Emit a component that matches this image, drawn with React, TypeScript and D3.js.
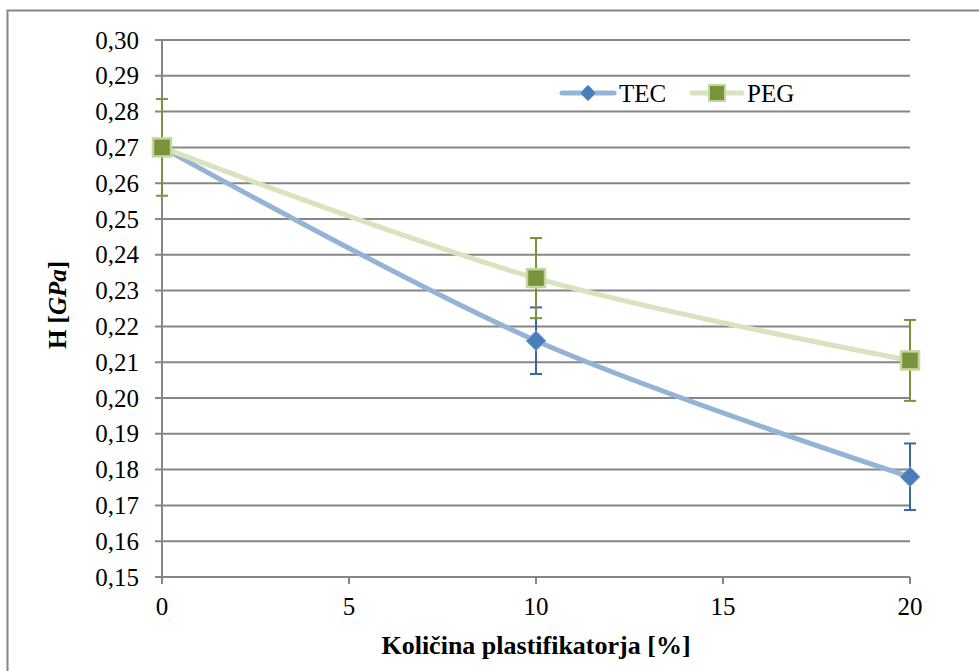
import React from "react";
import * as d3 from "d3";

const xValues = [0, 10, 20];
const tecValues = [0.270, 0.216, 0.178];
const tecErrors = [0.002, 0.0093, 0.0093];
const pegValues = [0.270, 0.2335, 0.2105];
const pegErrors = [0.0135, 0.0112, 0.0113];
const yTicks = [0.15, 0.16, 0.17, 0.18, 0.19, 0.20, 0.21, 0.22, 0.23, 0.24, 0.25, 0.26, 0.27, 0.28, 0.29, 0.30];
const xTicks = [0, 5, 10, 15, 20];
const seriesNames = ["TEC", "PEG"];

const W = 979;
const H = 671;
const left = 162;
const right = 910;
const top = 40;
const bottom = 577;

export default function App() {
  const x = d3.scaleLinear().domain([0, 20]).range([left, right]);
  const y = d3.scaleLinear().domain([0.15, 0.30]).range([bottom, top]);
  const line = d3
    .line<number>()
    .x((_, i) => x(xValues[i]))
    .y((d) => y(d))
    .curve(d3.curveCardinal.tension(0));
  const fmt = (v: number) => v.toFixed(2).replace(".", ",");
  const font = "Liberation Serif, Times New Roman, DejaVu Serif, serif";
  const grid = "#868686";
  const tecLine = "#95B3D7";
  const tecFill = "#4A7EBB";
  const tecErr = "#3A67A0";
  const pegLine = "#D7E4BD";
  const pegFill = "#77933C";
  const pegStroke = "#C3D69B";

  const diamond = (cx: number, cy: number, r: number) =>
    `M${cx},${cy - r}L${cx + r},${cy}L${cx},${cy + r}L${cx - r},${cy}Z`;

  const errBars = (vals: number[], errs: number[], color: string) =>
    vals.map((v, i) => {
      const cx = x(xValues[i]);
      const y1 = y(v + errs[i]);
      const y2 = y(v - errs[i]);
      return (
        <g key={i} stroke={color} strokeWidth={2}>
          <line x1={cx} x2={cx} y1={y1} y2={y2} />
          <line x1={cx - 6} x2={cx + 6} y1={y1} y2={y1} />
          <line x1={cx - 6} x2={cx + 6} y1={y2} y2={y2} />
        </g>
      );
    });

  return (
    <svg
      width={W}
      height={H}
      style={{ position: "absolute", left: 0, top: 0, display: "block", background: "#fff", fontFamily: font }}
    >
      <rect x={7.5} y={10.5} width={W + 10} height={H + 10} fill="#fff" stroke={grid} strokeWidth={2} />
      {yTicks.map((t) => (
        <g key={t}>
          <line x1={left - 7} x2={right} y1={y(t)} y2={y(t)} stroke={grid} strokeWidth={2} />
          <text
            x={left - 23}
            y={y(t)}
            dy="0.34em"
            textAnchor="end"
            style={{ fontFamily: font }}
            fontSize={25}
            fill="#000"
          >
            {fmt(t)}
          </text>
        </g>
      ))}
      {xTicks.map((t) => (
        <g key={t}>
          <line x1={x(t)} x2={x(t)} y1={bottom} y2={bottom + 7} stroke={grid} strokeWidth={2} />
          <text x={x(t)} y={615} textAnchor="middle" style={{ fontFamily: font }} fontSize={25} fill="#000">
            {t}
          </text>
        </g>
      ))}
      <line x1={left} x2={left} y1={top} y2={bottom + 7} stroke={grid} strokeWidth={2} />

      <path d={line(tecValues) || ""} fill="none" stroke={tecLine} strokeWidth={5} strokeLinecap="round" />
      <path d={line(pegValues) || ""} fill="none" stroke={pegLine} strokeWidth={5} strokeLinecap="round" />

      {errBars(tecValues, tecErrors, tecErr)}
      {tecValues.map((v, i) => (
        <path key={i} d={diamond(x(xValues[i]), y(v), 10)} fill={tecFill} stroke={tecLine} strokeWidth={1} />
      ))}
      {errBars(pegValues, pegErrors, pegFill)}
      {pegValues.map((v, i) => (
        <rect
          key={i}
          x={x(xValues[i]) - 9}
          y={y(v) - 9}
          width={18}
          height={18}
          fill={pegFill}
          stroke={pegStroke}
          strokeWidth={2.5}
        />
      ))}

      <g>
        <line x1={562} x2={614} y1={93} y2={93} stroke={tecLine} strokeWidth={5} strokeLinecap="round" />
        <path d={diamond(588, 93, 8)} fill={tecFill} stroke={tecLine} strokeWidth={1} />
        <text x={619} y={93} dy="0.34em" style={{ fontFamily: font }} fontSize={25} fill="#000">
          {seriesNames[0]}
        </text>
        <line x1={692} x2={742} y1={93} y2={93} stroke={pegLine} strokeWidth={5} strokeLinecap="round" />
        <rect x={709} y={85} width={16} height={16} fill={pegFill} stroke={pegStroke} strokeWidth={2} />
        <text x={747} y={93} dy="0.34em" style={{ fontFamily: font }} fontSize={25} fill="#000">
          {seriesNames[1]}
        </text>
      </g>

      <text
        x={536}
        y={654}
        textAnchor="middle"
        style={{ fontFamily: font }}
        fontSize={26}
        fontWeight="bold"
        fill="#000"
      >
        Količina plastifikatorja [%]
      </text>
      <text
        transform={`translate(66,305) rotate(-90)`}
        textAnchor="middle"
        style={{ fontFamily: font }}
        fontSize={25}
        fontWeight="bold"
        fill="#000"
      >
        H [<tspan fontStyle="italic">GPa</tspan>]
      </text>
    </svg>
  );
}
